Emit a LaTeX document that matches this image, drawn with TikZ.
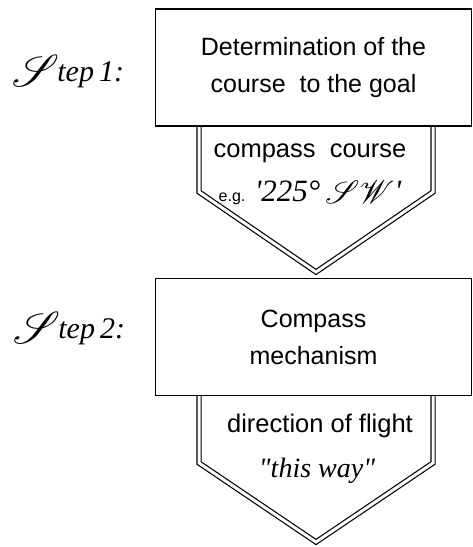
\documentclass[tikz,border=0pt]{standalone}
\usepackage{fontspec}
\usepackage{mathrsfs}
\setmainfont{Liberation Serif}
\newfontfamily\boxfont{Liberation Sans}
\newfontfamily\quotefont{Liberation Serif}
\usetikzlibrary{positioning}

\newcommand{\bigS}{\raisebox{-5pt}{\scalebox{1.8}{$\mathscr{S}$}}}

\tikzset{
  stepbox/.style={rectangle, draw, line width=1.8pt, fill=white, minimum width=316pt, minimum height=117pt, inner sep=0pt, align=center, font=\boxfont\fontsize{25}{37}\selectfont},
  outshape/.style={draw, double, double distance=3pt, line width=1.2pt, line join=miter},
  outtext/.style={inner sep=0pt, align=center, font=\boxfont\fontsize{25.5}{28}\selectfont},
  steplabel/.style={inner sep=0pt, font=\quotefont\itshape\fontsize{30}{30}\selectfont}
}

\begin{document}
\begin{tikzpicture}[x=1pt, y=-1pt]
  \useasboundingbox (0,0) rectangle (472,547);

  % output arrows below each step
  \draw[outshape] (199,126) -- (199,192) -- (316,272) -- (433,192) -- (433,126);
  \draw[outshape] (199,396) -- (199,463) -- (316,542) -- (433,463) -- (433,396);

  % step boxes
  \node[stepbox] (course) at (313.5,67.5) {Determination of the\\ course\ \ to the goal};
  \node[stepbox] (mech) at (313.5,337) {Compass\\ mechanism};

  % step labels
  \node[steplabel] (step1) at (68,72) {\bigS\kern-2pt tep\,1:};
  \node[steplabel] (step2) at (69,329) {\bigS\kern-2pt tep\,2:};

  % outputs
  \node[outtext] (compass) at (310,153) {compass\ \ course};
  \node[outtext] (example) at (310,193) {{\fontsize{16}{16}\selectfont e.g.} {\quotefont\itshape\fontsize{31}{31}\selectfont '225°\,\raisebox{-2pt}{\scalebox{1.3}{$\mathscr{SW}$}}'}};
  \node[outtext] (flight) at (320,426) {direction of flight};
  \node[outtext] (way) at (317,471) {{\quotefont\itshape\fontsize{28}{28}\selectfont "this way"}};
\end{tikzpicture}
\end{document}
